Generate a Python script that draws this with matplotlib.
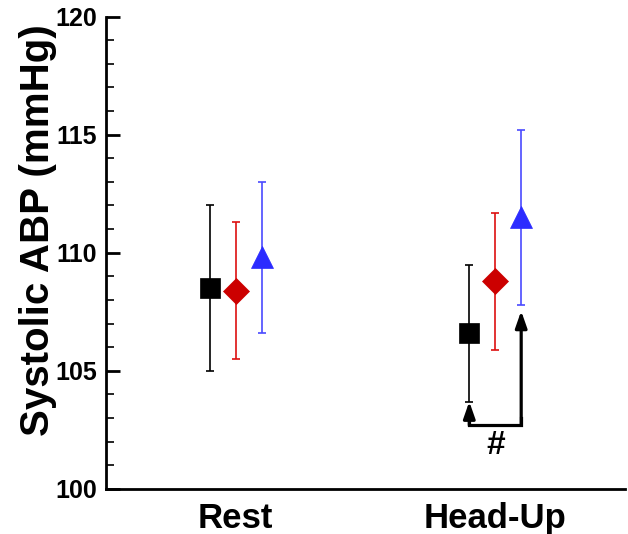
import numpy as np
import matplotlib.pyplot as plt
from matplotlib.ticker import MultipleLocator

conditions = ['Rest', 'Head-Up']
groups = ['black', 'red', 'blue']
means = {
    'black': [108.5, 106.6],
    'red': [108.4, 108.8],
    'blue': [109.8, 111.5],
}
sds = {
    'black': [3.5, 2.9],
    'red': [2.9, 2.9],
    'blue': [3.2, 3.7],
}
ylabel = 'Systolic ABP (mmHg)'

plt.rcParams['font.family'] = ['Liberation Sans', 'DejaVu Sans']
plt.rcParams['font.weight'] = 'bold'

fig = plt.figure(figsize=(6.28, 5.34), dpi=100)
ax = fig.add_axes([0.1688, 0.0843, 0.8264, 0.8848])

styles = {
    'black': dict(marker='s', ms=14.4, mfc='black', ecolor='black'),
    'red': dict(marker='D', ms=13.5, mfc='#cc0000', ecolor='#dd1111'),
    'blue': dict(marker='^', ms=16, mfc='#2b2bff', ecolor='#4a4aff'),
}
offsets = {'black': -0.1, 'red': 0.0, 'blue': 0.1}
x = np.arange(len(conditions))

for g in groups:
    st = styles[g]
    ax.errorbar(x + offsets[g], means[g], yerr=sds[g], fmt='none',
                ecolor=st['ecolor'], elinewidth=1.2, capsize=3.2, capthick=1.2, zorder=2)
    ax.plot(x + offsets[g], means[g], linestyle='none', marker=st['marker'],
            ms=st['ms'], mfc=st['mfc'], mec=st['mfc'], mew=0.5, zorder=3)

# significance bracket: black vs blue at Head-Up
xb = x[1] + offsets['black']
xu = x[1] + offsets['blue']
y_low_b = means['black'][1] - sds['black'][1]
y_low_u = means['blue'][1] - sds['blue'][1]
ybr = 102.7
ax.plot([xb, xb, xu, xu], [ybr + 0.3, ybr, ybr, ybr + 0.3], color='black', lw=2.3,
        solid_joinstyle='miter', zorder=2)
for xx, ytop, shr in [(xb, y_low_b, 0), (xu, y_low_u, 4.5)]:
    ax.annotate('', xy=(xx, ytop), xytext=(xx, ybr),
                arrowprops=dict(arrowstyle='-|>,head_length=1.0,head_width=0.35',
                                color='black', lw=2.3, shrinkA=0, shrinkB=shr))
ax.text(x[1], ybr - 0.2, '#', ha='center', va='top', fontsize=24, fontweight='bold')

ax.set_ylim(100, 120)
ax.set_xlim(-0.5, 1.5)
ax.yaxis.set_major_locator(MultipleLocator(5))
ax.yaxis.set_minor_locator(MultipleLocator(1))
ax.set_xticks(x)
ax.set_xticklabels(conditions, fontsize=25, fontweight='bold')
ax.tick_params(axis='x', length=0, pad=9.5)
ax.tick_params(axis='y', which='major', direction='in', length=10, width=2,
               labelsize=18, pad=6.5)
ax.tick_params(axis='y', which='minor', direction='in', length=6, width=1.2)
ax.set_ylabel(ylabel, fontsize=29, fontweight='bold')
ax.yaxis.set_label_coords(-0.094, 0.548)

for s in ['top', 'right']:
    ax.spines[s].set_visible(False)
for s in ['left', 'bottom']:
    ax.spines[s].set_linewidth(2)

plt.savefig('out.png', dpi=100)
